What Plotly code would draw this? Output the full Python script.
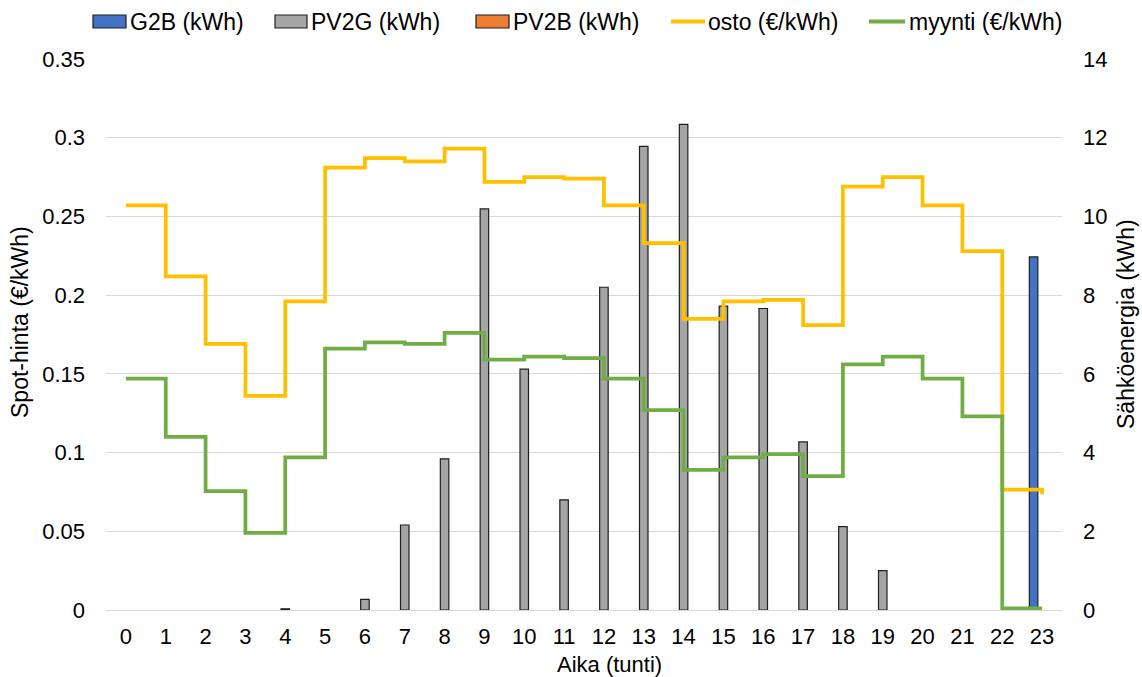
import plotly.graph_objects as go

# Hourly data (hour of day 0-23)
hours = list(range(24))

# Spot prices, €/kWh
osto = [0.257, 0.212, 0.169, 0.136, 0.196, 0.281, 0.287, 0.285, 0.293, 0.272,
        0.275, 0.274, 0.257, 0.233, 0.185, 0.196, 0.197, 0.181, 0.269, 0.275,
        0.257, 0.228, 0.0765, 0.0735]
myynti = [0.147, 0.110, 0.0755, 0.049, 0.097, 0.166, 0.170, 0.169, 0.176, 0.159,
          0.161, 0.160, 0.147, 0.127, 0.089, 0.097, 0.099, 0.085, 0.156, 0.161,
          0.147, 0.123, 0.001, 0.001]

# Energy flows, kWh
g2b = [0] * 23 + [8.97]
pv2g = [0, 0, 0, 0, 0.03, 0, 0.27, 2.16, 3.84, 10.19,
        6.12, 2.80, 8.20, 11.78, 12.34, 7.72, 7.66, 4.27, 2.12, 1.0,
        0, 0, 0, 0]
pv2b = [0] * 24

legend_labels = ["G2B (kWh)", "PV2G (kWh)", "PV2B (kWh)", "osto (€/kWh)", "myynti (€/kWh)"]

W, H = 1142, 677
ML, MR, MT, MB = 106, 80, 59, 67
PW, PH = W - ML - MR, H - MT - MB
FONT = "Liberation Sans, Arial, sans-serif"
FS = 23       # legend and vertical axis titles
FS_TICK = 22  # tick labels and the hour-axis title

C_BLUE, C_GRAY, C_ORANGE = "#4472C4", "#A5A5A5", "#ED7D31"
C_OSTO, C_MYYNTI = "#FFC000", "#70AD47"
EDGE = "#1f1f1f"


def px(x):
    return (x - ML) / PW


def py(y):
    return (H - MB - y) / PH


def nonzero(vals):
    # empty hours get no bar at all
    return [v if v else None for v in vals]


fig = go.Figure()
# Energy bars on the primary (right-hand, kWh) axis, drawn underneath
for name, vals, col in [("G2B (kWh)", g2b, C_BLUE),
                        ("PV2G (kWh)", pv2g, C_GRAY),
                        ("PV2B (kWh)", pv2b, C_ORANGE)]:
    fig.add_trace(go.Bar(x=hours, y=nonzero(vals), name=name, yaxis="y",
                         marker=dict(color=col, line=dict(color=EDGE, width=1.2)),
                         showlegend=False))

# Price steps on the overlaying (left-hand, €/kWh) axis, drawn on top
for name, vals, col in [("osto (€/kWh)", osto, C_OSTO),
                        ("myynti (€/kWh)", myynti, C_MYYNTI)]:
    fig.add_trace(go.Scatter(x=hours, y=vals, name=name, mode="lines", yaxis="y2",
                             line=dict(color=col, width=3.75, shape="hv"),
                             showlegend=False))

# Legend drawn as swatches and text along the top
shapes = []
annotations = []
legend_items = [
    ("rect", C_BLUE, 93, 126, 128),
    ("rect", C_GRAY, 275, 307, 309),
    ("rect", C_ORANGE, 476, 509, 511),
    ("line", C_OSTO, 671, 705, 706),
    ("line", C_MYYNTI, 869, 905, 907),
]
ly = 21.5
for (kind, col, x0, x1, tx), label in zip(legend_items, legend_labels):
    if kind == "rect":
        shapes.append(dict(type="rect", xref="paper", yref="paper",
                           x0=px(x0), x1=px(x1), y0=py(ly + 6.5), y1=py(ly - 6.5),
                           fillcolor=col, line=dict(color=EDGE, width=1.2), layer="above"))
    else:
        shapes.append(dict(type="line", xref="paper", yref="paper",
                           x0=px(x0), x1=px(x1), y0=py(ly), y1=py(ly),
                           line=dict(color=col, width=4), layer="above"))
    annotations.append(dict(text=label, xref="paper", yref="paper", x=px(tx), y=py(ly),
                            xanchor="left", yanchor="middle", showarrow=False,
                            font=dict(family=FONT, size=FS, color="#000000")))

# Axis titles
annotations.append(dict(text="Aika (tunti)", xref="paper", yref="paper",
                        x=px(609), y=py(664), xanchor="center", yanchor="middle",
                        showarrow=False,
                        font=dict(family=FONT, size=FS_TICK, color="#000000")))
annotations.append(dict(text="Spot-hinta (€/kWh)", xref="paper", yref="paper",
                        x=px(20), y=py(322), xanchor="center", yanchor="middle",
                        textangle=-90, showarrow=False,
                        font=dict(family=FONT, size=FS, color="#000000")))
annotations.append(dict(text="Sähköenergia (kWh)", xref="paper", yref="paper",
                        x=px(1126), y=py(324), xanchor="center", yanchor="middle",
                        textangle=-90, showarrow=False,
                        font=dict(family=FONT, size=FS, color="#000000")))

fig.update_layout(
    width=W, height=H,
    margin=dict(l=ML, r=MR, t=MT, b=MB, pad=0),
    paper_bgcolor="white", plot_bgcolor="white",
    font=dict(family=FONT, size=FS_TICK, color="#000000"),
    barmode="group", bargap=0.36, bargroupgap=0,
    showlegend=False,
    shapes=shapes, annotations=annotations,
    xaxis=dict(range=[-0.5, 23.5], tickmode="array", tickvals=hours,
               ticktext=[str(h) for h in hours], showgrid=False, zeroline=False,
               showline=False, ticks="", ticklabelstandoff=11),
    yaxis=dict(range=[0, 14], dtick=2, tick0=0, side="right",
               showgrid=True, gridcolor="#D9D9D9", gridwidth=1, zeroline=True,
               zerolinecolor="#D9D9D9", zerolinewidth=1, showline=False,
               ticks="", ticklabelstandoff=20),
    yaxis2=dict(range=[0, 0.35], dtick=0.05, tick0=0, overlaying="y", side="left",
                showgrid=False, zeroline=False, showline=False, ticks="",
                ticklabelstandoff=20),
)

fig.write_html("out.html")
